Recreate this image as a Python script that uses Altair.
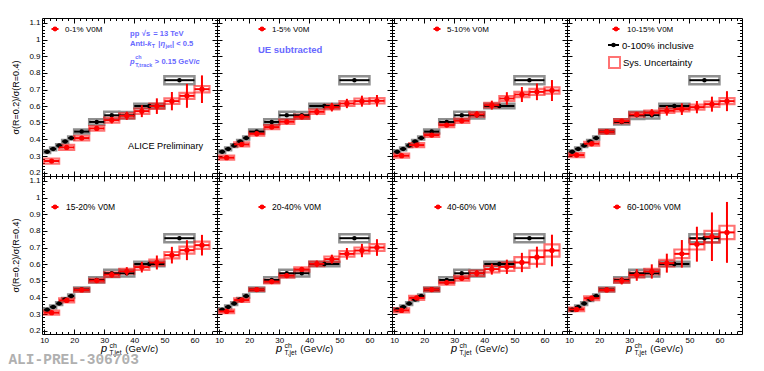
import altair as alt
import pandas as pd

FONT = "Liberation Sans"
BLUE = "#6868ff"

# ---------------- data ----------------
inc_lo = [10, 12, 14, 16, 18, 20, 25, 30, 35, 40, 50]
inc_hi = [12, 14, 16, 18, 20, 25, 30, 35, 40, 50, 60]
inc_val = [0.326, 0.343, 0.363, 0.388, 0.408, 0.447, 0.505, 0.545, 0.545, 0.601, 0.756]
inc_stat = [0.002, 0.002, 0.002, 0.003, 0.003, 0.003, 0.004, 0.005, 0.005, 0.006, 0.008]
inc_sys = [0.008, 0.008, 0.008, 0.009, 0.009, 0.012, 0.016, 0.022, 0.020, 0.014, 0.024]

mult_lo = [10, 15, 20, 25, 30, 35, 40, 45, 50, 55, 60]
mult_hi = [15, 20, 25, 30, 35, 40, 45, 50, 55, 60, 65]

classes = ["0-1% V0M", "1-5% V0M", "5-10% V0M", "10-15% V0M",
           "15-20% V0M", "20-40% V0M", "40-60% V0M", "60-100% V0M"]

mult_val = [
    [0.270, 0.352, 0.408, 0.466, 0.516, 0.542, 0.570, 0.600, 0.630, 0.662, 0.702],
    [0.290, 0.370, 0.434, 0.474, 0.506, 0.536, 0.566, 0.594, 0.616, 0.630, 0.632],
    [0.302, 0.366, 0.426, 0.486, 0.512, 0.550, 0.606, 0.646, 0.670, 0.686, 0.694],
    [0.306, 0.374, 0.446, 0.510, 0.550, 0.560, 0.572, 0.582, 0.594, 0.612, 0.630],
    [0.308, 0.382, 0.445, 0.501, 0.537, 0.557, 0.582, 0.610, 0.654, 0.684, 0.714],
    [0.316, 0.384, 0.447, 0.495, 0.531, 0.568, 0.602, 0.630, 0.662, 0.682, 0.700],
    [0.322, 0.397, 0.447, 0.489, 0.515, 0.545, 0.570, 0.584, 0.610, 0.642, 0.682],
    [0.328, 0.395, 0.445, 0.500, 0.535, 0.556, 0.606, 0.662, 0.720, 0.765, 0.791],
]
mult_stat = [
    [0.005, 0.007, 0.009, 0.012, 0.020, 0.025, 0.036, 0.047, 0.055, 0.072, 0.083],
    [0.005, 0.006, 0.008, 0.010, 0.013, 0.016, 0.020, 0.026, 0.028, 0.033, 0.035],
    [0.005, 0.006, 0.008, 0.010, 0.014, 0.020, 0.027, 0.038, 0.045, 0.050, 0.063],
    [0.005, 0.006, 0.008, 0.010, 0.015, 0.022, 0.029, 0.035, 0.037, 0.045, 0.060],
    [0.005, 0.007, 0.008, 0.010, 0.018, 0.025, 0.032, 0.042, 0.050, 0.060, 0.062],
    [0.004, 0.005, 0.006, 0.008, 0.011, 0.015, 0.020, 0.027, 0.035, 0.040, 0.050],
    [0.005, 0.007, 0.009, 0.012, 0.015, 0.020, 0.033, 0.043, 0.058, 0.063, 0.095],
    [0.006, 0.010, 0.014, 0.022, 0.035, 0.043, 0.057, 0.083, 0.105, 0.146, 0.183],
]
mult_sys = [
    [0.015, 0.015, 0.014, 0.014, 0.015, 0.015, 0.016, 0.016, 0.017, 0.018, 0.019],
    [0.012, 0.012, 0.011, 0.012, 0.013, 0.013, 0.013, 0.014, 0.015, 0.016, 0.016],
    [0.012, 0.012, 0.011, 0.012, 0.013, 0.013, 0.014, 0.015, 0.016, 0.018, 0.019],
    [0.012, 0.012, 0.011, 0.012, 0.013, 0.013, 0.013, 0.014, 0.015, 0.016, 0.018],
    [0.012, 0.012, 0.010, 0.011, 0.013, 0.014, 0.016, 0.017, 0.019, 0.021, 0.022],
    [0.010, 0.011, 0.008, 0.011, 0.012, 0.013, 0.014, 0.016, 0.017, 0.018, 0.020],
    [0.012, 0.012, 0.010, 0.012, 0.014, 0.016, 0.020, 0.025, 0.032, 0.040, 0.037],
    [0.010, 0.011, 0.009, 0.011, 0.014, 0.016, 0.020, 0.026, 0.032, 0.035, 0.040],
]

x_major = [10, 20, 30, 40, 50, 60]
x_ticks = list(range(10, 67, 2))
y_major = [0.2, 0.3, 0.4, 0.5, 0.6, 0.7, 0.8, 0.9, 1.0, 1.1]
y_ticks = [round(0.2 + 0.02 * i, 2) for i in range(47)]

XDOM = [9.3, 67.5]
YDOM = [0.18, 1.13]
W, H = 175, 158

# approximate glyph advance widths (per 1000 em) for text layout
BOLD_W = {" ": 278, "(": 333, ")": 333, ",": 278, "-": 333, ".": 278, "/": 278,
          "<": 584, "=": 584, ">": 584, "|": 280, "A": 722, "G": 778, "T": 611,
          "V": 667, "c": 556, "e": 556, "h": 611, "i": 278, "j": 278, "k": 556,
          "n": 611, "p": 611, "r": 389, "s": 556, "t": 333, "a": 556, "√": 549,
          "η": 611}
REG_W = {" ": 278, "(": 333, ")": 333, ",": 278, "/": 278, "G": 778, "T": 611,
         "V": 667, "c": 500, "e": 556, "h": 556, "j": 222, "p": 556, "t": 278}


def make_df(lo, hi, val, stat, sys):
    return pd.DataFrame({
        "lo": lo, "hi": hi,
        "xc": [(a + b) / 2 for a, b in zip(lo, hi)],
        "y": val,
        "st_lo": [v - s for v, s in zip(val, stat)],
        "st_hi": [v + s for v, s in zip(val, stat)],
        "sy_lo": [v - s for v, s in zip(val, sys)],
        "sy_hi": [v + s for v, s in zip(val, sys)],
    })


inc_df = make_df(inc_lo, inc_hi, inc_val, inc_stat, inc_sys)
ONE = pd.DataFrame({"k": [0]})

XS = alt.Scale(domain=XDOM, nice=False, zero=False)
YS = alt.Scale(domain=YDOM, nice=False, zero=False)


def tick_axis(orient, offset, ch):
    if ch == "x":
        vals, test = x_ticks, "abs(datum.value % 10) < 0.01"
    else:
        vals, test = y_ticks, "abs(datum.value * 10 - round(datum.value * 10)) < 0.001"
    return alt.Axis(orient=orient, offset=offset, values=vals, labels=False,
                    domain=False, grid=False, ticks=True, tickColor="black",
                    tickWidth=1, title=None,
                    tickSize={"condition": {"test": test, "value": 5}, "value": 2.5})


XLAB = alt.Axis(orient="bottom", values=x_major, ticks=False, domain=False, grid=False,
                labelFont=FONT, labelFontSize=8, labelPadding=2, labelFlush=False,
                labelColor="black", title=None)
YLAB = alt.Axis(orient="left", values=y_major, format=".1~f", ticks=False, domain=False,
                grid=False, labelFont=FONT, labelFontSize=8, labelPadding=2,
                labelColor="black", title="σ(R=0.2)/σ(R=0.4)", titleFont=FONT,
                titleFontSize=9, titleFontWeight="normal", titleColor="black",
                titlePadding=8)


def txt(s, x, y, size, color="black", weight="normal", style="normal", align="left"):
    return alt.Chart(ONE).mark_text(text=s, font=FONT, fontSize=size, fontWeight=weight,
                                    fontStyle=style, color=color, align=align,
                                    baseline="alphabetic").encode(
        x=alt.value(x), y=alt.value(y))


def width(s, size, bold):
    tab = BOLD_W if bold else REG_W
    return sum(tab.get(c, 556) for c in s) / 1000.0 * size


def rich(pieces, x, y, color, bold):
    """pieces: (text, size, style, dy, gap); a list of pieces is stacked at the same x."""
    out = []
    w = "bold" if bold else "normal"
    for p in pieces:
        group = p if isinstance(p, list) else [p]
        adv = 0
        for s, size, style, dy, gap in group:
            out.append(txt(s, x, y + dy, size, color, w, style))
            adv = max(adv, width(s, size, bold) + gap)
        x += adv
    return out


def marker(x, y, color, size, half):
    bar = alt.Chart(ONE).mark_rule(color=color, strokeWidth=2).encode(
        x=alt.value(x - half), x2=alt.value(x + half), y=alt.value(y))
    dot = alt.Chart(ONE).mark_point(filled=True, shape="circle", size=size, color=color,
                                    opacity=1).encode(x=alt.value(x), y=alt.value(y))
    return [bar, dot]


leg_pos = [(13, 23, 11), (45, 55, 11), (45, 55, 11), (49, 60, 11),
           (13, 24, 31), (45, 55, 31), (46, 55, 31), (50, 60, 31)]

FS = 7.6
SUB = 5.4


def panel(i):
    row, col = divmod(i, 4)
    d = make_df(mult_lo, mult_hi, mult_val[i], mult_stat[i], mult_sys[i])
    bi = alt.Chart(inc_df)
    bm = alt.Chart(d)
    layers = [
        bi.mark_rect(fillOpacity=0, stroke="#8f8f8f", strokeWidth=2.5).encode(
            x=alt.X("lo:Q", scale=XS, axis=tick_axis("top", -H, "x")), x2="hi",
            y=alt.Y("sy_lo:Q", scale=YS, axis=tick_axis("right", -W, "y")), y2="sy_hi"),
        bm.mark_rect(fillOpacity=0, stroke="#ff0000", strokeOpacity=0.55, strokeWidth=2.2).encode(
            x=alt.X("lo:Q", scale=XS, axis=tick_axis("bottom", -H, "x")), x2="hi",
            y=alt.Y("sy_lo:Q", scale=YS, axis=tick_axis("left", -W, "y")), y2="sy_hi"),
        bi.mark_rule(color="black", strokeWidth=2).encode(
            x=alt.X("lo:Q", scale=XS, axis=XLAB if row == 1 else None), x2="hi",
            y=alt.Y("y:Q", scale=YS, axis=YLAB if col == 0 else None)),
        bi.mark_rule(color="black", strokeWidth=2).encode(
            x=alt.X("xc:Q", scale=XS, axis=None),
            y=alt.Y("st_lo:Q", scale=YS, axis=None), y2="st_hi"),
        bi.mark_point(filled=True, shape="circle", size=20, color="black", opacity=1).encode(
            x=alt.X("xc:Q", scale=XS, axis=None), y=alt.Y("y:Q", scale=YS, axis=None)),
        bm.mark_rule(color="#ff0000", strokeWidth=2).encode(
            x=alt.X("lo:Q", scale=XS, axis=None), x2="hi",
            y=alt.Y("y:Q", scale=YS, axis=None)),
        bm.mark_rule(color="#ff0000", strokeWidth=2).encode(
            x=alt.X("xc:Q", scale=XS, axis=None),
            y=alt.Y("st_lo:Q", scale=YS, axis=None), y2="st_hi"),
        bm.mark_point(filled=True, shape="circle", size=28, color="#ff0000", opacity=1).encode(
            x=alt.X("xc:Q", scale=XS, axis=None), y=alt.Y("y:Q", scale=YS, axis=None)),
    ]
    mx, tx, my = leg_pos[i]
    layers += marker(mx, my, "#ff0000", 24, 3.5)
    layers.append(txt(classes[i], tx, my + 3, 8 if row == 0 else 8.5))
    if i == 0:
        layers += rich([("pp", FS, "normal", 0, 2.5), ("√s", FS, "normal", 0, 3),
                        ("= 13 TeV", FS, "normal", 0, 0)], 88, 18, BLUE, True)
        layers += rich([("Anti-", FS, "normal", 0, 0), ("k", FS, "italic", 0, 0.3),
                        ("T", SUB, "normal", 2, 3), ("|", FS, "normal", 0, 0.3),
                        ("η", FS, "italic", 0, 0.2), ("jet", SUB, "normal", 2, 0.3),
                        ("| < 0.5", FS, "normal", 0, 0)], 88, 28, BLUE, True)
        layers += rich([("p", FS, "italic", 0, 0.5),
                        [("ch", SUB, "normal", -5.5, 0), ("T,track", SUB, "normal", 2.5, 2)],
                        ("> 0.15 GeV/", FS, "normal", 0, 0), ("c", FS, "italic", 0, 0)],
                       88, 46, BLUE, True)
        layers.append(txt("ALICE Preliminary", 86, 131, 9.2))
    if i == 1:
        layers.append(txt("UE subtracted", 41, 35, 9.5, BLUE, "bold"))
    if i == 3:
        layers += marker(46.5, 27, "black", 20, 5.5)
        layers.append(txt("0-100% inclusive", 55, 30.5, 9.5))
        layers.append(alt.Chart(ONE).mark_rect(fillOpacity=0, stroke="#ff0000", strokeOpacity=0.55,
                                               strokeWidth=2).encode(
            x=alt.value(42), x2=alt.value(53), y=alt.value(39), y2=alt.value(50)))
        layers.append(txt("Sys. Uncertainty", 56, 48, 9.5))
    if row == 1:
        layers += rich([("p", 11, "italic", 0, 2.4),
                        [("ch", 7, "normal", -3.5, 0), ("T,jet", 6.5, "normal", 3.3, 3.2)],
                        ("(GeV/", 9.5, "normal", 0.5, 0), ("c", 9.5, "italic", 0.5, 0.2),
                        (")", 9.5, "normal", 0.5, 0)], 59, 175.5, "black", False)
    return alt.layer(*layers).properties(width=W, height=H).resolve_axis(
        x="independent", y="independent")


panels = [panel(i) for i in range(8)]
chart = alt.concat(*panels, columns=4, spacing=0, bounds="flush").properties(
    title=alt.TitleParams("ALI-PREL-306703", orient="bottom", anchor="start", frame="bounds",
                          font="Liberation Mono", fontSize=14.5, fontWeight="bold",
                          color="#b0b0b0", offset=-4, dx=-3),
    padding={"left": 0, "top": 9, "right": 5, "bottom": 0},
).configure(font=FONT).configure_view(stroke="black", strokeWidth=1).configure_axis(grid=False)

chart.save("out.html", embed_options={"renderer": "svg", "actions": False})
